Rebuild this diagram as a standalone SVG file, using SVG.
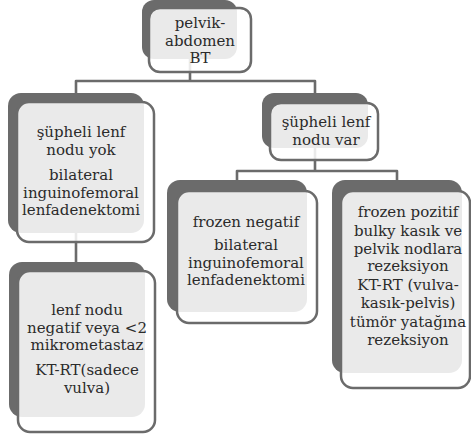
<svg xmlns="http://www.w3.org/2000/svg" width="471" height="437" viewBox="0 0 471 437">
<style>
.bk{fill:#6b6b6b}
.fr{fill:#fff;fill-opacity:0.86;stroke:#6b6b6b;stroke-width:2.5}
.cn{fill:none;stroke:#6b6b6b;stroke-width:2.6;stroke-linejoin:round}
text{font-family:"DejaVu Serif","Liberation Serif",serif;font-size:15px;fill:#2b2b2b;text-anchor:middle}
</style>
<rect width="471" height="437" fill="#fff"/>
<g id="connectors">
<path class="cn" d="M190,59 V81 H76 V93 M190,81 H315 V93"/>
<path class="cn" d="M76,233 V262"/>
<path class="cn" d="M315,148 V171 H237 V180 M315,171 H397 V180"/>
</g>
<g id="n1">
<rect class="bk" x="142" y="0" width="95" height="59" rx="12"/>
<rect class="fr" x="149" y="8" width="102" height="64" rx="11"/>
<text x="200" y="28">pelvik-</text>
<text x="200" y="45.5">abdomen</text>
<text x="200" y="63">BT</text>
</g>
<g id="n2">
<rect class="bk" x="8" y="93" width="136" height="140" rx="13"/>
<rect class="fr" x="17" y="102" width="137" height="140" rx="12"/>
<text x="81" y="137">şüpheli lenf</text>
<text x="81" y="154.5">nodu yok</text>
<text x="81" y="180">bilateral</text>
<text x="81" y="197.5">inguinofemoral</text>
<text x="81" y="215">lenfadenektomi</text>
</g>
<g id="n3">
<rect class="bk" x="262" y="93" width="106" height="55" rx="12"/>
<rect class="fr" x="270" y="103" width="108" height="57" rx="11"/>
<text x="326" y="127">şüpheli lenf</text>
<text x="326" y="144.5">nodu var</text>
</g>
<g id="n4">
<rect class="bk" x="167" y="180" width="140" height="132" rx="13"/>
<rect class="fr" x="177" y="191" width="140" height="132" rx="12"/>
<text x="246" y="227">frozen negatif</text>
<text x="246" y="250">bilateral</text>
<text x="246" y="267.5">inguinofemoral</text>
<text x="246" y="285">lenfadenektomi</text>
</g>
<g id="n5">
<rect class="bk" x="332" y="180" width="130" height="193" rx="13"/>
<rect class="fr" x="341" y="191" width="129" height="197" rx="12"/>
<text x="408" y="217">frozen pozitif</text>
<text x="408" y="236">bulky kasık ve</text>
<text x="408" y="253.5">pelvik nodlara</text>
<text x="408" y="271">rezeksiyon</text>
<text x="408" y="290">KT-RT (vulva-</text>
<text x="408" y="307.5">kasık-pelvis)</text>
<text x="408" y="327">tümör yatağına</text>
<text x="408" y="344.5">rezeksiyon</text>
</g>
<g id="n6">
<rect class="bk" x="9" y="262" width="136" height="155" rx="13"/>
<rect class="fr" x="18" y="271" width="137" height="161" rx="12"/>
<text x="87" y="315">lenf nodu</text>
<text x="87" y="332.5">negatif veya &lt;2</text>
<text x="87" y="350">mikrometastaz</text>
<text x="87" y="375">KT-RT(sadece</text>
<text x="87" y="392.5">vulva)</text>
</g>
</svg>
